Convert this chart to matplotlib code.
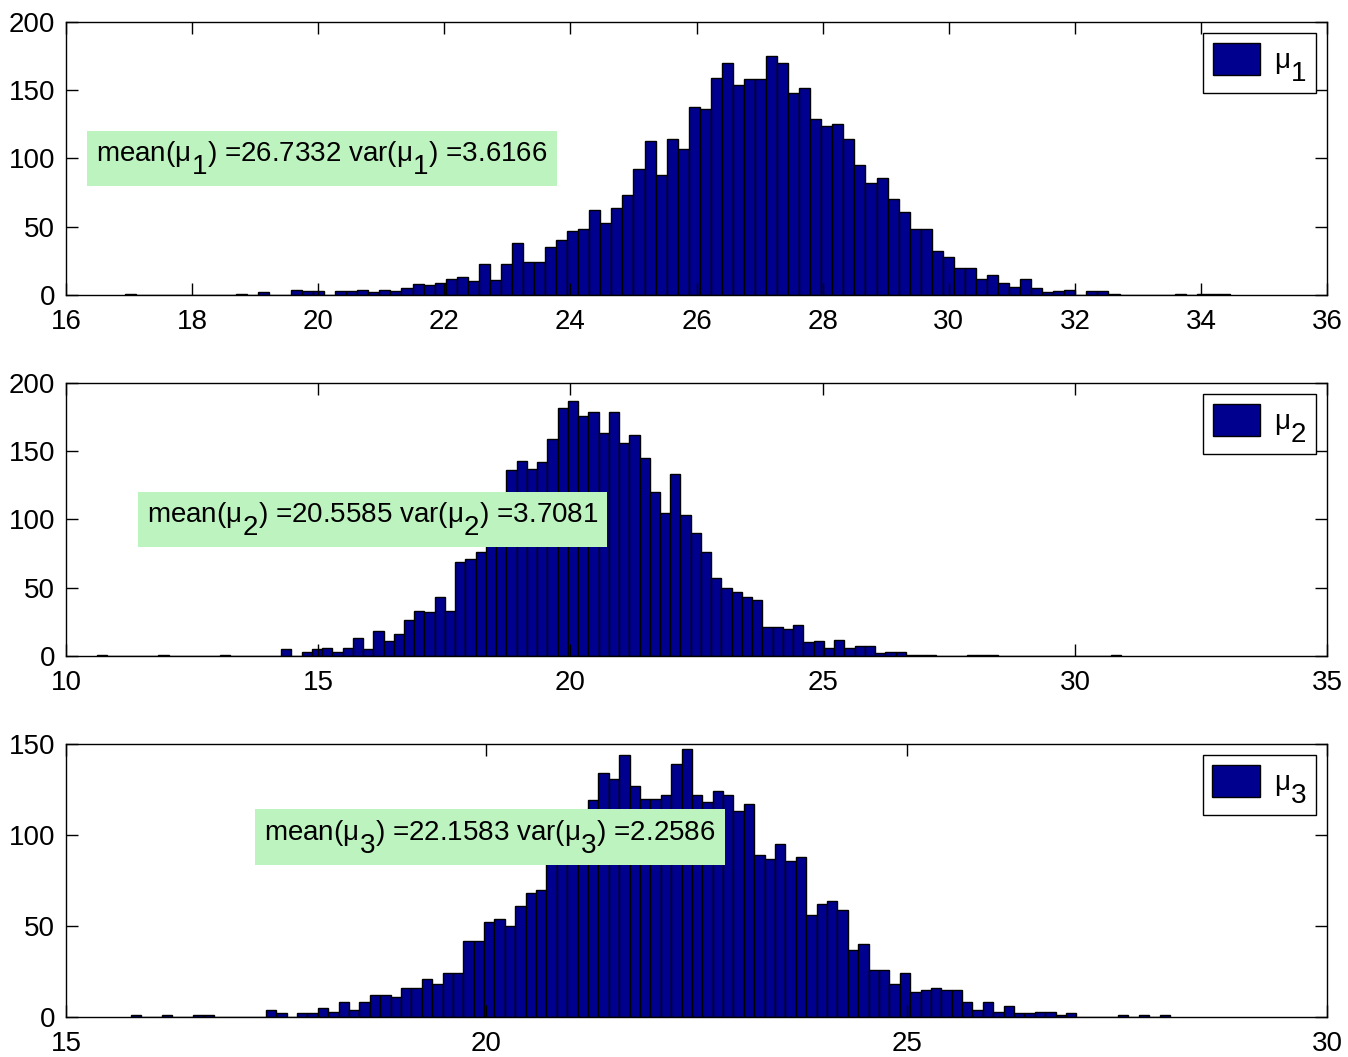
import numpy as np
import matplotlib.pyplot as plt
import matplotlib._mathtext as mathtext

plt.rcParams['font.family'] = ['Liberation Sans', 'DejaVu Sans']
plt.rcParams['mathtext.fontset'] = 'custom'
plt.rcParams['mathtext.rm'] = 'Liberation Sans'
plt.rcParams['mathtext.it'] = 'Liberation Sans'
plt.rcParams['mathtext.default'] = 'regular'
# subscripts in the original are full size and set low, like MATLAB's TeX interpreter
mathtext.SHRINK_FACTOR = 1.0
mathtext.FontConstantsBase.sub1 = 0.9

# histogram counts (100 bins each)
mu1_range = (16.94, 34.46)
mu1_counts = [1, 0, 0, 0, 0, 0, 0, 0, 0, 0,
              1, 0, 2, 0, 0, 4, 3, 3, 0, 3,
              3, 4, 2, 4, 3, 5, 8, 7, 9, 12,
              13, 10, 23, 11, 23, 38, 24, 24, 35, 40,
              47, 48, 62, 53, 64, 73, 92, 113, 88, 114,
              107, 138, 136, 159, 170, 154, 158, 158, 175, 170,
              148, 152, 129, 124, 125, 114, 95, 82, 86, 70,
              61, 48, 48, 32, 28, 20, 20, 12, 15, 9,
              6, 12, 5, 2, 3, 4, 0, 3, 3, 1,
              0, 0, 0, 0, 0, 1, 0, 1, 1, 1]

mu2_range = (10.61, 30.91)
mu2_counts = [1, 0, 0, 0, 0, 0, 1, 0, 0, 0,
              0, 0, 1, 0, 0, 0, 0, 0, 5, 0,
              3, 5, 6, 3, 6, 13, 5, 18, 11, 16,
              26, 33, 32, 43, 33, 69, 71, 76, 85, 95,
              136, 143, 137, 142, 159, 182, 187, 176, 179, 163,
              179, 156, 162, 145, 120, 105, 133, 103, 90, 76,
              57, 50, 47, 43, 41, 21, 21, 20, 23, 10,
              11, 6, 12, 6, 7, 7, 2, 3, 3, 1,
              1, 1, 0, 0, 0, 1, 1, 1, 0, 0,
              0, 0, 0, 0, 0, 0, 0, 0, 0, 1]

mu3_range = (15.77, 28.13)
mu3_counts = [1, 0, 0, 1, 0, 0, 1, 1, 0, 0,
              0, 0, 0, 4, 2, 0, 2, 2, 5, 3,
              8, 4, 8, 12, 12, 11, 16, 16, 21, 18,
              24, 24, 42, 42, 52, 54, 50, 61, 68, 70,
              90, 100, 106, 112, 119, 134, 131, 144, 127, 120,
              120, 122, 139, 147, 122, 118, 124, 122, 113, 117,
              89, 87, 95, 86, 88, 56, 62, 64, 59, 37,
              40, 26, 26, 18, 24, 14, 15, 16, 15, 15,
              8, 4, 8, 3, 6, 2, 2, 3, 3, 1,
              2, 0, 0, 0, 0, 1, 0, 1, 0, 1]

labels = ['$\\mu_1$', '$\\mu_2$', '$\\mu_3$']
stats = ['mean($\\mu_1$) =26.7332 var($\\mu_1$) =3.6166',
         'mean($\\mu_2$) =20.5585 var($\\mu_2$) =3.7081',
         'mean($\\mu_3$) =22.1583 var($\\mu_3$) =2.2586']
xlims = [(16, 36), (10, 35), (15, 30)]
xticks = [np.arange(16, 37, 2), np.arange(10, 36, 5), np.arange(15, 31, 5)]
ylims = [(0, 200), (0, 200), (0, 150)]
text_pos = [(16.48, 100), (11.6, 100), (17.36, 99)]

fig = plt.figure(figsize=(13.48, 10.57), dpi=100)
bottoms = [0.7209, 0.3794, 0.0378]

panels = zip([mu1_range, mu2_range, mu3_range], [mu1_counts, mu2_counts, mu3_counts])
for k, (rng, counts) in enumerate(panels):
    ax = fig.add_axes([0.049, bottoms[k], 0.9355, 0.2583])
    edges = np.linspace(rng[0], rng[1], len(counts) + 1)
    ax.bar(edges[:-1], counts, width=np.diff(edges), align='edge',
           color='#00008f', edgecolor='black', linewidth=1.0, label=labels[k])
    ax.set_xlim(*xlims[k])
    ax.set_ylim(*ylims[k])
    ax.set_xticks(xticks[k])
    ax.set_yticks(np.arange(0, ylims[k][1] + 1, 50))
    ax.tick_params(direction='in', length=8.6, width=1, top=True, right=True,
                   labelsize=20, pad=8)
    ax.tick_params(axis='x', pad=10)
    for s in ax.spines.values():
        s.set_linewidth(1.0)
    ax.text(text_pos[k][0], text_pos[k][1], stats[k], fontsize=20,
            ha='left', va='center',
            bbox=dict(boxstyle='square,pad=0.33', facecolor='#bdf3bf', edgecolor='none'))
    leg = ax.legend(loc='upper right', fontsize=20, fancybox=False,
                    edgecolor='black', framealpha=1, handlelength=1.7,
                    handleheight=1.4, borderpad=0.35, handletextpad=0.5,
                    borderaxespad=0.4)
    leg.get_frame().set_linewidth(1.0)

fig.savefig('out.png', dpi=100)
